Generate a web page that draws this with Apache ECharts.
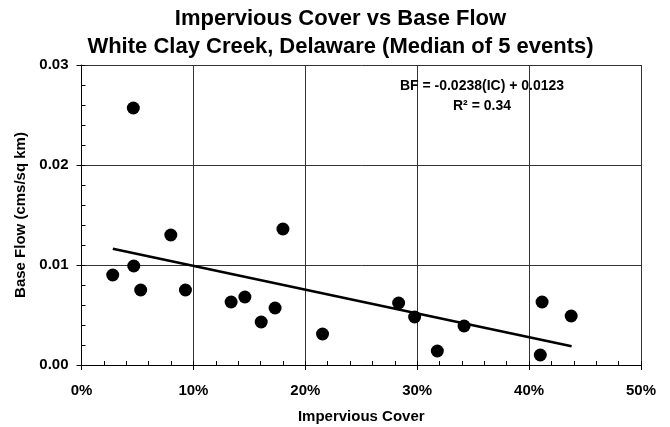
<!DOCTYPE html>
<html>
<head>
<meta charset="utf-8">
<script src="https://cdn.jsdelivr.net/npm/echarts@6/dist/echarts.min.js"></script>
<style>html,body{margin:0;padding:0;background:#fff;}#c{width:670px;height:427px;}</style>
</head>
<body>
<div id="c"></div>
<script>
// Impervious cover (fraction) and base flow (cms/sq km)
const icValues = [0.0463, 0.0279, 0.0467, 0.0529, 0.0798, 0.0929, 0.1337, 0.1460, 0.1606, 0.1730, 0.1800, 0.2154, 0.2834, 0.2977, 0.3180, 0.3419, 0.4116, 0.4100, 0.4376];
const bfValues = [0.0257, 0.0090, 0.0099, 0.0075, 0.0130, 0.0075, 0.0063, 0.0068, 0.0043, 0.0057, 0.0136, 0.0031, 0.0062, 0.0048, 0.0014, 0.0039, 0.0063, 0.0010, 0.0049];
// Trend line end points
const trendIC = [0.028, 0.438];
const trendBF = [0.01163, 0.00188];
const titleLines = ['Impervious Cover vs Base Flow', 'White Clay Creek, Delaware (Median of 5 events)'];
const eqLines = ['BF = -0.0238(IC) + 0.0123', 'R\u00b2 = 0.34'];

const FONT = "'Liberation Sans', Arial, sans-serif";
const points = icValues.map((v, i) => [v, bfValues[i]]);
const trend = trendIC.map((v, i) => [v, trendBF[i]]);

const chart = echarts.init(document.getElementById('c'), null, {renderer: 'canvas'});
const hidden = {show: false};
chart.setOption({
  animation: false,
  backgroundColor: '#fff',
  grid: {left: 81.5, right: 29, top: 65, bottom: 62, containLabel: false, outerBoundsMode: 'none'},
  xAxis: [{
    type: 'value', min: 0, max: 0.5, interval: 0.1, position: 'bottom',
    name: 'Impervious Cover', nameLocation: 'middle', nameGap: 44.5,
    nameTextStyle: {fontFamily: FONT, fontWeight: 'bold', fontSize: 15, color: '#000'},
    axisLine: {show: true, lineStyle: {color: '#000', width: 1}},
    axisTick: {show: true, inside: false, length: 5, lineStyle: {color: '#000'}},
    axisLabel: {fontFamily: FONT, fontWeight: 'bold', fontSize: 15, color: '#000', margin: 18,
      formatter: v => Math.round(v * 100) + '%'},
    splitLine: {show: true, lineStyle: {color: '#333', width: 1}}
  }, {
    type: 'value', min: 0, max: 0.5, interval: 0.02, position: 'bottom', gridIndex: 0,
    axisLine: hidden, axisLabel: hidden, splitLine: hidden,
    axisTick: {show: true, inside: true, length: 4, lineStyle: {color: '#000'}}
  }],
  yAxis: [{
    type: 'value', min: 0, max: 0.03, interval: 0.01, position: 'left',
    name: 'Base Flow (cms/sq km)', nameLocation: 'middle', nameGap: 46.5, nameRotate: 90,
    nameTextStyle: {fontFamily: FONT, fontWeight: 'bold', fontSize: 15, color: '#000'},
    axisLine: {show: true, lineStyle: {color: '#000', width: 1}},
    axisTick: {show: true, inside: false, length: 5, lineStyle: {color: '#000'}},
    axisLabel: {fontFamily: FONT, fontWeight: 'bold', fontSize: 15, color: '#000', margin: 13,
      formatter: v => v.toFixed(2)},
    splitLine: {show: true, lineStyle: {color: '#333', width: 1}}
  }, {
    type: 'value', min: 0, max: 0.03, interval: 0.002, position: 'left', gridIndex: 0,
    axisLine: hidden, axisLabel: hidden, splitLine: hidden,
    axisTick: {show: true, inside: true, length: 4, lineStyle: {color: '#000'}}
  }],
  series: [{
    type: 'line', data: trend, showSymbol: false, symbol: 'none',
    lineStyle: {color: '#000', width: 2.7}, z: 3
  }, {
    type: 'scatter', data: points, symbol: 'circle', symbolSize: 13,
    itemStyle: {color: '#000', opacity: 1}, z: 4
  }],
  graphic: [
    {type: 'text', x: 340.5, y: 18.5, style: {text: titleLines[0], font: "bold 22px " + FONT, fill: '#000', textAlign: 'center', textVerticalAlign: 'middle'}},
    {type: 'text', x: 340.5, y: 47.2, style: {text: titleLines[1], font: "bold 22px " + FONT, fill: '#000', textAlign: 'center', textVerticalAlign: 'middle'}},
    {type: 'text', x: 482, y: 86.5, z: 10, style: {text: eqLines[0], font: "bold 14px " + FONT, fill: '#000', textAlign: 'center', textVerticalAlign: 'middle'}},
    {type: 'text', x: 482, y: 106.5, z: 10, style: {text: eqLines[1], font: "bold 14px " + FONT, fill: '#000', textAlign: 'center', textVerticalAlign: 'middle'}}
  ]
});
</script>
</body>
</html>
